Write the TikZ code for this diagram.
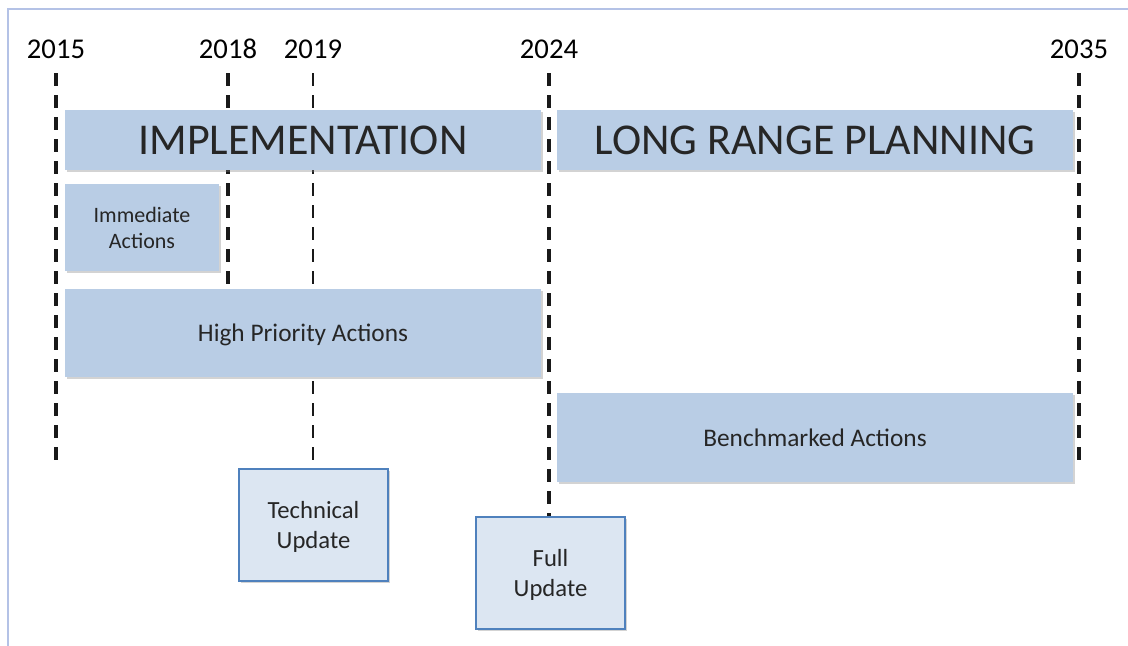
\documentclass[tikz,border=0pt]{standalone}
\usepackage{fontspec}
\setmainfont{Carlito}
\usepackage{xcolor}
\usetikzlibrary{positioning,shadows}
\definecolor{barblue}{HTML}{B9CDE5}
\definecolor{paleblue}{HTML}{DCE6F2}
\definecolor{edgeblue}{HTML}{4F81BD}
\definecolor{framec}{HTML}{B4C2E6}
\definecolor{inkc}{HTML}{262626}
\tikzset{
  yr/.style={anchor=base,inner sep=0pt,text=black,font=\fontsize{21.5}{25}\selectfont},
  guide/.style={dash pattern=on 9.75pt off 6.75pt,line width=2.6pt,black!90,shorten <=11pt},
  bar/.style={fill=barblue,text=inkc,align=center,inner sep=0pt,text depth=0pt,
    drop shadow={shadow xshift=1.2pt,shadow yshift=-1.6pt,opacity=0.35}},
  upd/.style={bar,fill=paleblue,draw=edgeblue,line width=0.9pt,
    font=\fontsize{18.5}{22.5}\selectfont}
}

\begin{document}
\begin{tikzpicture}[x=0.75pt,y=-0.75pt]
\useasboundingbox (0,0) rectangle (1128,646);
\draw[framec,line width=1.5pt] (8,646) -- (8,9) -- (1128,9);
% years
\node[yr] (y2015) at (56,58) {2015};
\node[yr] (y2018) at (228,58) {2018};
\node[yr] (y2019) at (313,58) {2019};
\node[yr] (y2024) at (549,58) {2024};
\node[yr] (y2035) at (1079,58) {2035};
\coordinate (e2015) at (56,462);
\coordinate (e2018) at (228,289);
\coordinate (e2019) at (313,462);
\coordinate (e2024) at (549,518);
\coordinate (e2035) at (1079,462);
\draw[guide] (y2015.south) -- (e2015);
\draw[guide] (y2018.south) -- (e2018);
\draw[guide,line width=1.6pt] (y2019.south) -- (e2019);
\draw[guide] (y2024.south) -- (e2024);
\draw[guide] (y2035.south) -- (e2035);
% phases
\node[bar,minimum width=357pt,minimum height=45pt,font=\fontsize{33}{37}\selectfont] (impl) at (303,140) {IMPLEMENTATION};
\node[bar,minimum width=387pt,minimum height=45pt,font=\fontsize{33}{37}\selectfont] (lrp) at (815,140) {LONG RANGE PLANNING};
% actions
\node[bar,minimum width=115.5pt,minimum height=65pt,font=\fontsize{16.5}{19.5}\selectfont] (immed) at (142,227.5) {Immediate\\Actions};
\node[bar,minimum width=357pt,minimum height=66pt,font=\fontsize{19}{23}\selectfont] (high) at (303,333) {High Priority Actions};
\node[bar,minimum width=387pt,minimum height=66.75pt,font=\fontsize{19}{23}\selectfont] (bench) at (815,437.5) {Benchmarked Actions};
% updates
\node[upd,minimum width=111.75pt,minimum height=84pt] (tech) at (313.5,525) {Technical\\Update};
\node[upd,minimum width=111.75pt,minimum height=84pt] (full) at (550.5,573) {Full\\Update};
\end{tikzpicture}
\end{document}
